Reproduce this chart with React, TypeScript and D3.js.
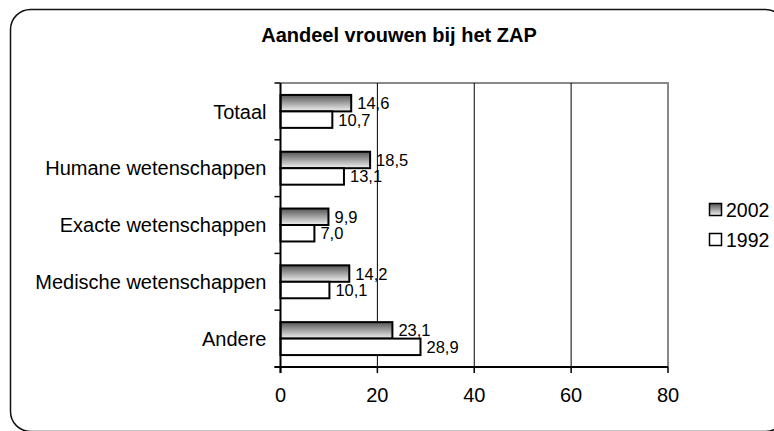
import * as d3 from "d3";
import { useEffect, useRef } from "react";

const categories = ["Totaal", "Humane wetenschappen", "Exacte wetenschappen", "Medische wetenschappen", "Andere"];
const series = ["2002", "1992"];
const values2002 = [14.6, 18.5, 9.9, 14.2, 23.1];
const values1992 = [10.7, 13.1, 7.0, 10.1, 28.9];
const xTicks = [0, 20, 40, 60, 80];

const W = 774;
const H = 431;
const font = "'Liberation Sans', Arial, sans-serif";

export default function App() {
  const ref = useRef<SVGSVGElement>(null);

  useEffect(() => {
    const svg = d3.select(ref.current);
    svg.selectAll("*").remove();

    const defs = svg.append("defs");
    const grad = defs.append("linearGradient")
      .attr("id", "g2002").attr("x1", 0).attr("y1", 0).attr("x2", 0).attr("y2", 1);
    grad.append("stop").attr("offset", "0%").attr("stop-color", "#555");
    grad.append("stop").attr("offset", "100%").attr("stop-color", "#f2f2f2");

    // outer rounded frame
    svg.append("rect")
      .attr("x", 10.5).attr("y", 9.5)
      .attr("width", 775).attr("height", 422)
      .attr("rx", 20)
      .attr("fill", "white").attr("stroke", "#111").attr("stroke-width", 1.5);

    svg.append("text")
      .attr("x", 399).attr("y", 42)
      .attr("text-anchor", "middle")
      .attr("font-family", font).attr("font-weight", "bold").attr("font-size", 20)
      .text("Aandeel vrouwen bij het ZAP");

    const left = 280.5, right = 668, top = 83, bottom = 367;

    const x = d3.scaleLinear().domain([0, 80]).range([left, right]);
    const y = d3.scaleBand().domain(categories).range([top, bottom]).paddingInner(0.42).paddingOuter(0.21);
    const ys = d3.scaleBand().domain(series).range([0, y.bandwidth()]);

    // plot border (gray top/right)
    svg.append("path")
      .attr("d", `M${left},${top}H${right}V${bottom}`)
      .attr("fill", "none").attr("stroke", "#888").attr("stroke-width", 2);

    // gridlines
    svg.append("g").selectAll("line")
      .data(xTicks.filter(t => t > 0 && t < 80))
      .join("line")
      .attr("x1", d => x(d)).attr("x2", d => x(d))
      .attr("y1", top).attr("y2", bottom)
      .attr("stroke", "#000").attr("stroke-width", 1);

    // bars
    const rows = categories.map((c, i) => ({ c, v: [values2002[i], values1992[i]] }));
    const g = svg.append("g").selectAll("g").data(rows).join("g")
      .attr("transform", d => `translate(0,${y(d.c)})`);

    series.forEach((s, si) => {
      g.append("rect")
        .attr("x", x(0))
        .attr("y", ys(s)!)
        .attr("width", d => x(d.v[si]) - x(0))
        .attr("height", ys.bandwidth())
        .attr("fill", si === 0 ? "url(#g2002)" : "white")
        .attr("stroke", "#000").attr("stroke-width", 2);
      g.append("text")
        .attr("x", d => x(d.v[si]) + 6)
        .attr("y", ys(s)! + ys.bandwidth() / 2)
        .attr("dy", "0.36em")
        .attr("font-family", font).attr("font-size", 16.5)
        .text(d => d3.format(".1f")(d.v[si]).replace(".", ","));
    });

    // y axis
    const yAxis = svg.append("g");
    yAxis.append("line")
      .attr("x1", left).attr("x2", left).attr("y1", top).attr("y2", bottom + 6)
      .attr("stroke", "#000").attr("stroke-width", 2);
    const bounds = categories.map(c => y(c)! - (y.step() - y.bandwidth()) / 2).concat([bottom]);
    yAxis.selectAll("line.t").data(bounds).join("line").attr("class", "t")
      .attr("x1", left - 6).attr("x2", left).attr("y1", d => d).attr("y2", d => d)
      .attr("stroke", "#000").attr("stroke-width", 1.5);
    yAxis.selectAll("text").data(categories).join("text")
      .attr("x", left - 14)
      .attr("y", d => y(d)! + y.bandwidth() / 2)
      .attr("dy", "0.36em")
      .attr("text-anchor", "end")
      .attr("font-family", font).attr("font-size", 20)
      .text(d => d);

    // x axis
    const xAxis = svg.append("g");
    xAxis.append("line")
      .attr("x1", left - 6).attr("x2", right).attr("y1", bottom).attr("y2", bottom)
      .attr("stroke", "#000").attr("stroke-width", 2);
    xAxis.selectAll("line.t").data(xTicks).join("line").attr("class", "t")
      .attr("x1", d => x(d)).attr("x2", d => x(d)).attr("y1", bottom).attr("y2", bottom + 6)
      .attr("stroke", "#000").attr("stroke-width", 1.5);
    xAxis.selectAll("text").data(xTicks).join("text")
      .attr("x", d => x(d))
      .attr("y", 395)
      .attr("dy", "0.36em")
      .attr("text-anchor", "middle")
      .attr("font-family", font).attr("font-size", 20)
      .text(d => d);

    // legend
    const lg = svg.append("g").selectAll("g").data(series).join("g")
      .attr("transform", (d, i) => `translate(709,${210 + i * 30})`);
    lg.append("rect")
      .attr("x", 0.5).attr("y", -6.5).attr("width", 12).attr("height", 12)
      .attr("fill", (d, i) => i === 0 ? "url(#g2002)" : "white")
      .attr("stroke", "#000").attr("stroke-width", 1.5);
    lg.append("text")
      .attr("x", 17).attr("y", 0).attr("dy", "0.36em")
      .attr("font-family", font).attr("font-size", 19.5)
      .text(d => d);
  }, []);

  return <svg ref={ref} width={W} height={H} style={{ position: "absolute", left: 0, top: 0 }} />;
}
